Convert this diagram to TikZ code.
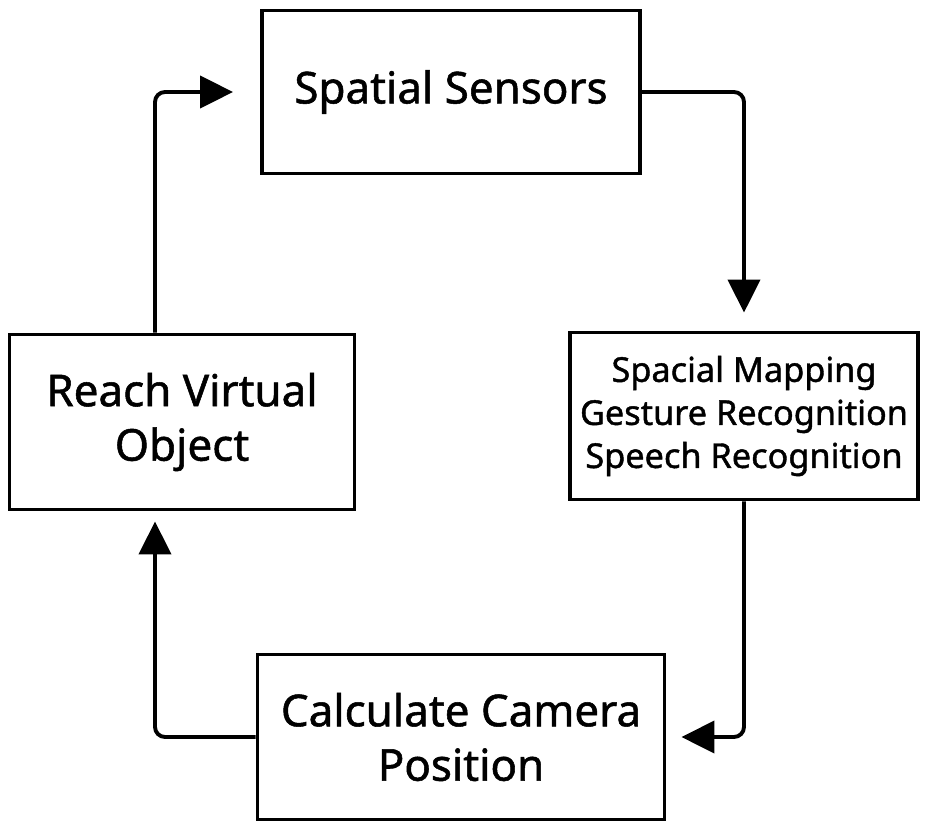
\documentclass[tikz,border=0pt]{standalone}
\usepackage{fontspec}
\setmainfont{Noto Sans}[UprightFeatures={FakeBold=1.2}]
\usetikzlibrary{arrows.meta}

\begin{document}
\begin{tikzpicture}[x=0.2mm,y=-0.2mm,
    box/.style={draw,line width=2.2pt,align=center,inner sep=0pt},
    big/.style={font=\fontsize{25}{31}\selectfont},
    small/.style={font=\fontsize{19.5}{24.5}\selectfont},
    flow/.style={line width=2.2pt,rounded corners=2mm,
      -{Triangle[length=6.6mm,width=6.4mm]}}]
  \useasboundingbox (0,0) rectangle (925,825);
  \node[box,big,minimum width=75.6mm,minimum height=32.6mm] (sensors) at (451,92) {Spatial Sensors};
  \node[box,small,minimum width=69.6mm,minimum height=33.4mm] (mapping) at (744,416) {Spacial Mapping\\Gesture Recognition\\Speech Recognition};
  \node[box,big,minimum width=69mm,minimum height=35mm] (reach) at (182,422) {Reach Virtual\\Object};
  \node[box,big,minimum width=81.4mm,minimum height=33mm] (camera) at (461,737) {Calculate Camera\\Position};
  % loop of arrows
  \draw[flow,shorten >=5.4mm] ([xshift=-5.4mm]reach.north) |- (sensors.west);
  \draw[flow,shorten >=3.6mm] (sensors.east) -| (mapping.north);
  \draw[flow,shorten >=3mm] (mapping.south) |- (camera.east);
  \draw[flow,shorten >=2mm] (camera.west) -| ([xshift=-5.4mm]reach.south);
\end{tikzpicture}
\end{document}
